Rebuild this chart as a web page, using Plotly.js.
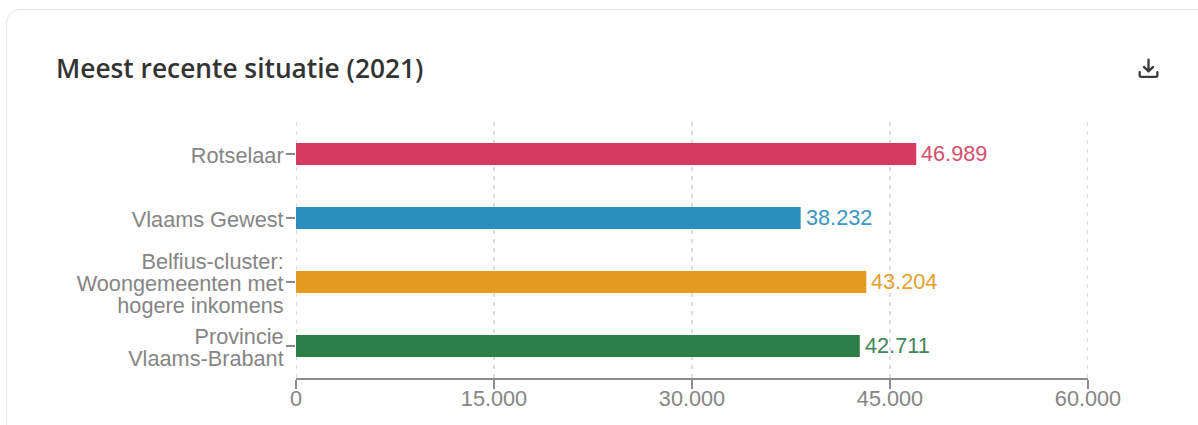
<!DOCTYPE html>
<html>
<head>
<meta charset="utf-8">
<title>Meest recente situatie (2021)</title>
<script src="https://cdn.plot.ly/plotly-3.0.1.min.js"></script>
<style>
  html, body { margin: 0; padding: 0; background: #fff; overflow: hidden; }
  #card {
    position: absolute; left: 6px; top: 9px; width: 1300px; height: 600px;
    border: 1.5px solid #e6e6e6; border-radius: 14px; box-sizing: border-box;
  }
  #chart { position: absolute; left: 0; top: 0; width: 1198px; height: 425px; }
  #download { position: absolute; left: 1135.5px; top: 55.5px; }
</style>
</head>
<body>
<div id="card"></div>
<div id="chart"></div>
<svg id="download" width="25" height="25" viewBox="0 0 24 24" fill="none" stroke="#3a3a3a" stroke-width="2.2">
  <path d="M12 3.5V14.5M7.6 10.5L12 14.8L16.4 10.5" stroke-linecap="round" stroke-linejoin="round"/>
  <path d="M3.5 15.5V18.5Q3.5 20 5 20H19Q20.5 20 20.5 18.5V15.5" stroke-linecap="round"/>
</svg>
<script>
// Categories, top to bottom
const categories = [
  'Rotselaar',
  'Vlaams Gewest',
  'Belfius-cluster:<br>Woongemeenten met<br>hogere inkomens',
  'Provincie<br>Vlaams-Brabant'
];
const values = [46989, 38232, 43204, 42711];
const barColors = ['#d63a5e', '#2a8fbf', '#e69a1f', '#2c7d46'];
const labelColors = ['#d4506f', '#3a96c2', '#e5a030', '#3f8557'];
const xTicks = [0, 15000, 30000, 45000, 60000];

const LABEL_FONT = 'Liberation Sans, Arial, sans-serif';
const LABEL_SIZE = 21.7;
const LINE_HEIGHT = 22;
const LABEL_DROP = 1;
const GREY_TEXT = '#858585';
const AXIS_GREY = '#8c8c8c';

// Dutch thousands notation: 46989 -> 46.989
const formatValue = function (v) {
  return String(v).replace(/\B(?=(\d{3})+$)/g, '.');
};

const trace = {
  type: 'bar',
  orientation: 'h',
  y: categories,
  x: values,
  marker: { color: barColors },
  hoverinfo: 'skip'
};

const layout = {
  width: 1198,
  height: 425,
  margin: { l: 296, r: 110, t: 122, b: 47, pad: 0 },
  paper_bgcolor: 'rgba(0,0,0,0)',
  plot_bgcolor: 'rgba(0,0,0,0)',
  separators: ',.',
  bargap: 0.66,
  showlegend: false,
  title: {
    text: 'Meest recente situatie (2021)',
    font: { family: 'Open Sans, sans-serif', size: 26.3, color: '#333333', weight: 600 },
    x: 56 / 1198,
    xanchor: 'left',
    xref: 'container',
    y: 1 - 69 / 425,
    yanchor: 'middle',
    yref: 'container'
  },
  // Dashed vertical guides, including the ones on the plot edges
  shapes: xTicks.map(function (t) {
    return {
      type: 'line', layer: 'below',
      xref: 'x', x0: t, x1: t,
      yref: 'paper', y0: 0, y1: 1,
      line: { color: '#d4d4d4', width: 1.6, dash: '4px,5px' }
    };
  }),
  // Value labels beside the bar ends
  annotations: values.map(function (v, i) {
    return {
      x: v, y: categories[i], xref: 'x', yref: 'y',
      text: formatValue(v),
      showarrow: false,
      xanchor: 'left', yanchor: 'middle',
      xshift: 3, yshift: 1,
      font: { family: LABEL_FONT, size: LABEL_SIZE, color: labelColors[i] }
    };
  }),
  xaxis: {
    range: [0, 60000],
    tickvals: xTicks,
    tickformat: ',d',
    ticks: 'outside',
    ticklen: 9,
    tickwidth: 2,
    tickcolor: AXIS_GREY,
    showline: true,
    linecolor: AXIS_GREY,
    linewidth: 2,
    showgrid: false,
    zeroline: false,
    ticklabelstandoff: -9,
    tickfont: { family: LABEL_FONT, size: LABEL_SIZE, color: GREY_TEXT },
    fixedrange: true
  },
  yaxis: {
    type: 'category',
    autorange: 'reversed',
    ticks: 'outside',
    ticklen: 9,
    tickwidth: 1.5,
    tickcolor: AXIS_GREY,
    showline: false,
    showgrid: false,
    zeroline: false,
    ticklabelstandoff: -2,
    tickfont: { family: LABEL_FONT, size: LABEL_SIZE, color: GREY_TEXT },
    fixedrange: true
  }
};

// Plotly spaces multi-line tick labels at 1.3em; tighten them and keep them centred on the tick.
function tightenTickLines() {
  document.querySelectorAll('#chart .ytick text').forEach(function (label) {
    const lines = label.querySelectorAll('tspan.line');
    if (!lines.length) {
      label.setAttribute('y', parseFloat(label.getAttribute('y')) + LABEL_DROP);
      return;
    }
    const before = label.getBBox();
    lines.forEach(function (line, i) {
      line.setAttribute('dy', (i * LINE_HEIGHT) + 'px');
    });
    const after = label.getBBox();
    const shift = (before.y + before.height / 2) - (after.y + after.height / 2) + LABEL_DROP;
    lines.forEach(function (line) {
      line.setAttribute('y', parseFloat(line.getAttribute('y')) + shift);
    });
  });
}

Plotly.newPlot('chart', [trace], layout, { displayModeBar: false, staticPlot: true })
  .then(tightenTickLines);
</script>
</body>
</html>
